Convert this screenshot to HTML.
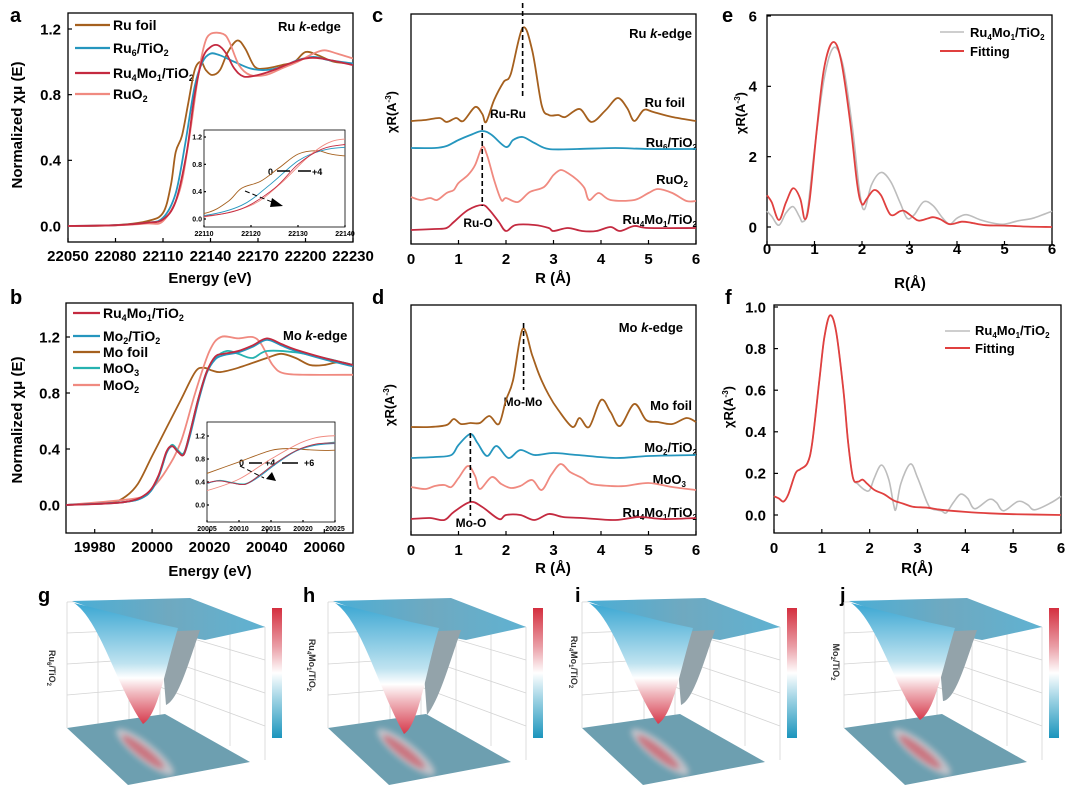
<!DOCTYPE html>
<html><head><meta charset="utf-8">
<style>
html,body{margin:0;padding:0;background:#fff;}
svg{display:block;font-family:"Liberation Sans",Arial,sans-serif;}
.b{font-weight:bold;}
</style></head>
<body>
<svg id="fig" width="1080" height="795" viewBox="0 0 1080 795" xmlns="http://www.w3.org/2000/svg">
<defs>
<linearGradient id="funnelGrad" x1="0" y1="0" x2="0" y2="1">
<stop offset="0" stop-color="#3aa6d2"/><stop offset="0.5" stop-color="#bfe3f0"/><stop offset="0.62" stop-color="#ffffff"/><stop offset="0.75" stop-color="#f0b7bd"/><stop offset="1" stop-color="#d63a4c"/>
</linearGradient>
<linearGradient id="cbarGrad" x1="0" y1="0" x2="0" y2="1">
<stop offset="0" stop-color="#d42f3f"/><stop offset="0.3" stop-color="#eaa0a8"/><stop offset="0.5" stop-color="#ffffff"/><stop offset="0.7" stop-color="#9fd3e4"/><stop offset="1" stop-color="#1b95bd"/>
</linearGradient>
<linearGradient id="topGrad" x1="0" y1="0" x2="1" y2="0">
<stop offset="0" stop-color="#4aaed6"/><stop offset="0.5" stop-color="#6fa9c0"/><stop offset="1" stop-color="#5fb2d2"/>
</linearGradient>
<filter id="blur3" x="-50%" y="-50%" width="200%" height="200%"><feGaussianBlur stdDeviation="3"/></filter>
<clipPath id="clipA"><rect x="204" y="130" width="141" height="97"/></clipPath>
<clipPath id="clipB"><rect x="207" y="422" width="128" height="100"/></clipPath>
<clipPath id="clipMainA"><rect x="68" y="13" width="285" height="229"/></clipPath>
<clipPath id="clipMainB"><rect x="66" y="303" width="287" height="230"/></clipPath>
</defs>

<g class="b" font-size="20">
<text x="10" y="22">a</text>
<text x="10" y="304">b</text>
<text x="372" y="22">c</text>
<text x="372" y="304">d</text>
<text x="722" y="22">e</text>
<text x="725" y="304">f</text>
<text x="38" y="602">g</text>
<text x="303" y="602">h</text>
<text x="575" y="602">i</text>
<text x="840" y="602">j</text>
</g>

<g class="b" font-size="14">
<text x="113" y="30">Ru foil</text>
<text x="113" y="53">Ru<tspan dy="3" font-size="9">6</tspan><tspan dy="-3">/TiO</tspan><tspan dy="3" font-size="9">2</tspan></text>
<text x="113" y="78">Ru<tspan dy="3" font-size="9">4</tspan><tspan dy="-3">Mo</tspan><tspan dy="3" font-size="9">1</tspan><tspan dy="-3">/TiO</tspan><tspan dy="3" font-size="9">2</tspan></text>
<text x="113" y="99">RuO<tspan dy="3" font-size="9">2</tspan></text>
</g>
<text class="b" x="278" y="31" font-size="13">Ru <tspan font-style="italic">k</tspan>-edge</text>
<text class="b" x="22" y="125" font-size="15" text-anchor="middle" transform="rotate(-90 22 125)">Normalized χμ (E)</text>
<text class="b" x="210" y="283" font-size="15" text-anchor="middle">Energy (eV)</text>
<g font-size="9" class="b">
<text x="268" y="175">0</text>
<text x="312" y="175">+4</text>
</g>

<g class="b" font-size="14">
<text x="103" y="318">Ru<tspan dy="3" font-size="9">4</tspan><tspan dy="-3">Mo</tspan><tspan dy="3" font-size="9">1</tspan><tspan dy="-3">/TiO</tspan><tspan dy="3" font-size="9">2</tspan></text>
<text x="103" y="341">Mo<tspan dy="3" font-size="9">2</tspan><tspan dy="-3">/TiO</tspan><tspan dy="3" font-size="9">2</tspan></text>
<text x="103" y="357">Mo foil</text>
<text x="103" y="373">MoO<tspan dy="3" font-size="9">3</tspan></text>
<text x="103" y="390">MoO<tspan dy="3" font-size="9">2</tspan></text>
</g>
<text class="b" x="283" y="340" font-size="13">Mo <tspan font-style="italic">k</tspan>-edge</text>
<text class="b" x="22" y="420" font-size="15" text-anchor="middle" transform="rotate(-90 22 420)">Normalized χμ (E)</text>
<text class="b" x="210" y="576" font-size="15" text-anchor="middle">Energy (eV)</text>
<g font-size="9" class="b">
<text x="239" y="466">0</text>
<text x="265" y="466">+4</text>
<text x="304" y="466">+6</text>
</g>

<g class="b" font-size="13" text-anchor="end">
<text x="692" y="38">Ru <tspan font-style="italic">k</tspan>-edge</text>
<text x="685" y="107">Ru foil</text>
<text x="697" y="147">Ru<tspan dy="3" font-size="8">6</tspan><tspan dy="-3">/TiO</tspan><tspan dy="3" font-size="8">2</tspan></text>
<text x="688" y="184">RuO<tspan dy="3" font-size="8">2</tspan></text>
<text x="697" y="224">Ru<tspan dy="3" font-size="8">4</tspan><tspan dy="-3">Mo</tspan><tspan dy="3" font-size="8">1</tspan><tspan dy="-3">/TiO</tspan><tspan dy="3" font-size="8">2</tspan></text>
</g>
<text class="b" x="508" y="118" font-size="12" text-anchor="middle">Ru-Ru</text>
<text class="b" x="478" y="227" font-size="12" text-anchor="middle">Ru-O</text>
<text class="b" x="396" y="112" font-size="13" text-anchor="middle" transform="rotate(-90 396 112)">χR(A<tspan dy="-5" font-size="8">-3</tspan><tspan dy="5">)</tspan></text>
<text class="b" x="553" y="283" font-size="15" text-anchor="middle">R (Å)</text>

<g class="b" font-size="13" text-anchor="end">
<text x="683" y="332">Mo <tspan font-style="italic">k</tspan>-edge</text>
<text x="692" y="410">Mo foil</text>
<text x="697" y="452">Mo<tspan dy="3" font-size="8">2</tspan><tspan dy="-3">/TiO</tspan><tspan dy="3" font-size="8">2</tspan></text>
<text x="686" y="484">MoO<tspan dy="3" font-size="8">3</tspan></text>
<text x="697" y="517">Ru<tspan dy="3" font-size="8">4</tspan><tspan dy="-3">Mo</tspan><tspan dy="3" font-size="8">1</tspan><tspan dy="-3">/TiO</tspan><tspan dy="3" font-size="8">2</tspan></text>
</g>
<text class="b" x="523" y="406" font-size="12" text-anchor="middle">Mo-Mo</text>
<text class="b" x="471" y="527" font-size="12" text-anchor="middle">Mo-O</text>
<text class="b" x="394" y="405" font-size="13" text-anchor="middle" transform="rotate(-90 394 405)">χR(A<tspan dy="-5" font-size="8">-3</tspan><tspan dy="5">)</tspan></text>
<text class="b" x="553" y="573" font-size="15" text-anchor="middle">R (Å)</text>

<g class="b" font-size="13">
<text x="970" y="37">Ru<tspan dy="3" font-size="8">4</tspan><tspan dy="-3">Mo</tspan><tspan dy="3" font-size="8">1</tspan><tspan dy="-3">/TiO</tspan><tspan dy="3" font-size="8">2</tspan></text>
<text x="970" y="56">Fitting</text>
</g>
<text class="b" x="745" y="113" font-size="13" text-anchor="middle" transform="rotate(-90 745 113)">χR(A<tspan dy="-5" font-size="8">-3</tspan><tspan dy="5">)</tspan></text>
<text class="b" x="910" y="288" font-size="15" text-anchor="middle">R(Å)</text>

<g class="b" font-size="13">
<text x="975" y="335">Ru<tspan dy="3" font-size="8">4</tspan><tspan dy="-3">Mo</tspan><tspan dy="3" font-size="8">1</tspan><tspan dy="-3">/TiO</tspan><tspan dy="3" font-size="8">2</tspan></text>
<text x="975" y="353">Fitting</text>
</g>
<text class="b" x="733" y="407" font-size="13" text-anchor="middle" transform="rotate(-90 733 407)">χR(A<tspan dy="-5" font-size="8">-3</tspan><tspan dy="5">)</tspan></text>
<text class="b" x="917" y="573" font-size="15" text-anchor="middle">R(Å)</text>

<g class="b" font-size="9" fill="#333">
<text x="49" y="668" text-anchor="middle" transform="rotate(90 49 668)">Ru<tspan dy="2" font-size="6">6</tspan><tspan dy="-2">/TiO</tspan><tspan dy="2" font-size="6">2</tspan></text>
<text x="309" y="665" text-anchor="middle" transform="rotate(90 309 665)">Ru<tspan dy="2" font-size="6">4</tspan><tspan dy="-2">Mo</tspan><tspan dy="2" font-size="6">1</tspan><tspan dy="-2">/TiO</tspan><tspan dy="2" font-size="6">2</tspan></text>
<text x="571" y="662" text-anchor="middle" transform="rotate(90 571 662)">Ru<tspan dy="2" font-size="6">4</tspan><tspan dy="-2">Mo</tspan><tspan dy="2" font-size="6">1</tspan><tspan dy="-2">/TiO</tspan><tspan dy="2" font-size="6">2</tspan></text>
<text x="833" y="662" text-anchor="middle" transform="rotate(90 833 662)">Mo<tspan dy="2" font-size="6">2</tspan><tspan dy="-2">/TiO</tspan><tspan dy="2" font-size="6">2</tspan></text>
</g>
</svg>

<script>
const aTicksX=[22050,22080,22110,22140,22170,22200,22230];
const aTicksY=[0,0.4,0.8,1.2];
const aRuFoil=[[22050,0],[22080,0.005],[22100,0.03],[22110,0.08],[22115,0.25],[22118,0.45],[22122,0.55],[22126,0.75],[22130,0.95],[22134,1.0],[22137,0.95],[22141,0.92],[22146,0.95],[22151,1.06],[22157,1.13],[22162,1.08],[22168,0.97],[22175,0.96],[22185,0.98],[22193,1.0],[22200,1.06],[22208,1.04],[22218,1.0],[22230,0.99]];
const aRu6=[[22050,0],[22080,0.005],[22100,0.02],[22110,0.05],[22118,0.2],[22124,0.5],[22130,0.85],[22135,1.0],[22140,1.05],[22146,1.04],[22155,1.0],[22165,0.96],[22175,0.95],[22185,0.97],[22195,1.01],[22205,1.03],[22215,1.01],[22230,0.99]];
const aRu4Mo1=[[22050,0],[22080,0.005],[22100,0.02],[22110,0.04],[22118,0.15],[22125,0.45],[22130,0.8],[22135,1.02],[22140,1.09],[22145,1.1],[22150,1.05],[22155,0.96],[22161,0.91],[22170,0.92],[22180,0.95],[22190,0.99],[22200,1.02],[22210,1.02],[22230,0.98]];
const aRuO2=[[22050,0],[22080,0.004],[22100,0.015],[22110,0.03],[22120,0.2],[22126,0.5],[22132,0.9],[22136,1.1],[22140,1.17],[22148,1.17],[22152,1.12],[22158,0.98],[22165,0.92],[22175,0.92],[22185,0.96],[22195,1.0],[22205,1.05],[22212,1.07],[22220,1.05],[22230,1.02]];
const aInsetTicksX=[22110,22120,22130,22140];
const aInsetTicksY=[0,0.4,0.8,1.2];

const bTicksX=[19980,20000,20020,20040,20060];
const bTicksY=[0,0.4,0.8,1.2];
const bRu4Mo1=[[19970,0],[19990,0.02],[19998,0.08],[20002,0.2],[20005,0.38],[20007,0.42],[20009,0.38],[20011,0.36],[20013,0.5],[20016,0.75],[20019,0.95],[20022,1.06],[20025,1.08],[20030,1.1],[20035,1.14],[20040,1.19],[20045,1.15],[20050,1.11],[20060,1.05],[20070,1.0]];
const bMo2=[[19970,0],[19990,0.02],[19998,0.07],[20002,0.19],[20005,0.37],[20007,0.42],[20009,0.38],[20011,0.36],[20013,0.48],[20016,0.73],[20019,0.94],[20022,1.04],[20025,1.07],[20030,1.09],[20035,1.13],[20040,1.18],[20045,1.14],[20050,1.1],[20060,1.04],[20070,0.99]];
const bMoFoil=[[19970,0],[19985,0.02],[19990,0.05],[19995,0.15],[20000,0.35],[20005,0.55],[20010,0.75],[20015,0.95],[20018,0.98],[20021,0.96],[20024,0.95],[20030,0.98],[20040,1.05],[20045,1.08],[20050,1.05],[20055,1.0],[20060,1.0],[20065,1.02],[20070,1.0]];
const bMoO3=[[19970,0],[19990,0.02],[19998,0.07],[20002,0.19],[20005,0.37],[20007,0.43],[20009,0.39],[20011,0.37],[20013,0.5],[20016,0.75],[20019,0.95],[20022,1.05],[20026,1.1],[20030,1.08],[20035,1.05],[20040,1.1],[20050,1.09],[20060,1.05],[20070,1.0]];
const bMoO2=[[19970,0],[19995,0.05],[20000,0.12],[20005,0.25],[20010,0.45],[20015,0.8],[20020,1.1],[20024,1.2],[20030,1.19],[20035,1.2],[20038,1.15],[20042,1.0],[20046,0.94],[20055,0.93],[20070,0.93]];
const bInsetTicksX=[20005,20010,20015,20020,20025];
const bInsetTicksY=[0,0.4,0.8,1.2];

const rTicks=[0,1,2,3,4,5,6];
const cRuFoil=[[0,123],[0.3,124],[0.6,126],[0.75,122],[0.95,126],[1.1,123],[1.35,137],[1.5,130],[1.58,122],[1.75,144],[1.95,162],[2.1,170],[2.35,216],[2.55,194],[2.75,139],[2.9,129],[3.1,129],[3.25,127],[3.55,135],[3.8,122],[4.1,134],[4.35,146],[4.55,136],[4.7,123],[4.9,134],[5.1,132],[5.5,127],[6,123]];
const cRu6=[[0,96],[0.5,96],[0.75,98],[1.0,104],[1.25,109],[1.5,113],[1.7,109],[2.0,97],[2.15,104],[2.35,107],[2.6,101],[2.9,95],[3.5,95],[4.3,96],[5,95],[6,95]];
const cRuO2=[[0,47],[0.2,44],[0.4,46],[0.55,44],[0.75,51],[0.9,54],[1.0,61],[1.2,69],[1.35,79],[1.5,97],[1.6,89],[1.75,64],[1.9,44],[2.0,46],[2.25,42],[2.5,52],[2.8,57],[3.0,69],[3.15,74],[3.3,71],[3.5,64],[3.65,56],[3.75,44],[3.95,51],[4.2,44],[4.7,44],[5.0,51],[5.2,55],[5.5,51],[5.8,43],[6,43]];
const cRu4Mo1=[[0,14],[0.5,15],[0.75,16],[0.9,22],[1.2,34],[1.5,39],[1.65,34],[1.85,22],[2.0,13],[2.2,19],[2.6,19],[2.9,16],[3.0,13],[3.3,16],[3.6,13],[3.9,13],[4.2,17],[4.4,13],[4.7,18],[5,16],[6,16]];
const cPeakRuRu=2.35, cPeakRuO=1.5;

const dMoFoil=[[0,108],[0.4,108],[0.75,110],[0.9,116],[1.05,111],[1.25,112],[1.45,112],[1.65,119],[1.85,111],[2.0,135],[2.15,155],[2.35,206],[2.55,180],[2.7,160],[2.9,140],[3.1,125],[3.4,108],[3.55,117],[3.75,108],[4.0,135],[4.2,123],[4.4,109],[4.7,131],[4.95,115],[5.2,113],[5.5,111],[5.8,117],[6,113]];
const dMo2=[[0,77],[0.5,78],[0.85,80],[1.0,90],[1.25,101],[1.4,92],[1.6,79],[1.8,89],[2.05,77],[2.3,85],[2.6,80],[3.0,82],[3.5,80],[4.3,77],[5,79],[6,80]];
const dMoO3=[[0,48],[0.3,46],[0.5,49],[0.7,50],[0.85,48],[1.0,57],[1.2,69],[1.35,59],[1.45,46],[1.7,58],[1.9,51],[2.1,47],[2.3,49],[2.55,55],[2.75,45],[2.95,60],[3.15,71],[3.35,63],[3.6,57],[3.8,51],[4.2,49],[4.5,49],[5,52],[5.5,48],[6,45]];
const dRu4Mo1=[[0,16],[0.4,17],[0.7,15],[0.9,23],[1.25,33],[1.5,28],[1.85,16],[2.0,20],[2.3,20],[2.6,15],[2.9,21],[3.2,18],[3.6,17],[4.3,15],[4.8,18],[5.3,16],[6,17]];
const dPeakMoMo=2.37, dPeakMoO=1.25;

const eTicksY=[0,2,4,6];
const eData=[[0,0.45],[0.1,0.3],[0.25,0.05],[0.4,0.4],[0.55,0.58],[0.68,0.3],[0.75,0.15],[0.85,0.45],[1.0,2.2],[1.2,4.2],[1.4,5.1],[1.6,4.6],[1.8,2.8],[1.95,1.0],[2.05,0.5],[2.2,1.2],[2.4,1.55],[2.6,1.3],[2.8,0.7],[2.95,0.25],[3.1,0.35],[3.3,0.72],[3.5,0.6],[3.7,0.25],[3.85,0.08],[4.0,0.25],[4.2,0.35],[4.5,0.2],[4.8,0.1],[5.0,0.08],[5.3,0.18],[5.6,0.25],[6,0.45]];
const eFit=[[0,0.9],[0.1,0.7],[0.25,0.2],[0.4,0.7],[0.55,1.1],[0.7,0.8],[0.8,0.22],[0.9,0.8],[1.05,2.8],[1.2,4.5],[1.38,5.25],[1.55,4.8],[1.75,3.0],[1.9,1.2],[2.0,0.65],[2.1,0.8],[2.25,1.05],[2.4,0.9],[2.6,0.35],[2.8,0.45],[2.9,0.45],[3.1,0.25],[3.2,0.18],[3.4,0.25],[3.5,0.28],[3.65,0.22],[3.85,0.08],[4.1,0.15],[4.3,0.12],[4.6,0.05],[5,0.04],[5.5,0.01],[6,0]];

const fTicksY=[0,0.2,0.4,0.6,0.8,1.0];
const fData=[[0,0.09],[0.1,0.08],[0.2,0.065],[0.3,0.1],[0.45,0.2],[0.55,0.22],[0.7,0.25],[0.8,0.35],[0.95,0.65],[1.05,0.85],[1.17,0.96],[1.3,0.88],[1.45,0.6],[1.55,0.35],[1.65,0.18],[1.75,0.15],[1.9,0.12],[2.0,0.12],[2.1,0.18],[2.25,0.24],[2.4,0.17],[2.5,0.05],[2.55,0.03],[2.65,0.15],[2.85,0.245],[3.0,0.18],[3.2,0.06],[3.3,0.03],[3.5,0.02],[3.6,0.01],[3.75,0.06],[3.9,0.1],[4.05,0.08],[4.2,0.03],[4.5,0.075],[4.65,0.06],[4.8,0.02],[5.1,0.065],[5.3,0.05],[5.45,0.025],[5.8,0.06],[6,0.09]];
const fFit=[[0,0.09],[0.1,0.08],[0.2,0.065],[0.3,0.1],[0.45,0.2],[0.55,0.22],[0.7,0.25],[0.8,0.35],[0.95,0.65],[1.05,0.85],[1.17,0.96],[1.3,0.88],[1.45,0.6],[1.55,0.35],[1.65,0.18],[1.75,0.16],[1.85,0.17],[1.95,0.15],[2.1,0.12],[2.3,0.1],[2.5,0.07],[2.7,0.055],[2.9,0.04],[3.2,0.035],[3.5,0.025],[4,0.015],[4.5,0.008],[5,0.004],[6,0]];

const NS='http://www.w3.org/2000/svg';
const svg=document.getElementById('fig');
function mk(tag,parent){const e=document.createElementNS(NS,tag);(parent||svg).appendChild(e);return e;}
function lin(d0,d1,r0,r1){return v=>r0+(v-d0)*(r1-r0)/(d1-d0);}
function smoothPath(pts){
  let d='M'+pts[0][0].toFixed(1)+','+pts[0][1].toFixed(1);
  for(let i=0;i<pts.length-1;i++){
    const p0=pts[i-1]||pts[i],p1=pts[i],p2=pts[i+1],p3=pts[i+2]||p2;
    const c1=[p1[0]+(p2[0]-p0[0])/6,p1[1]+(p2[1]-p0[1])/6];
    const c2=[p2[0]-(p3[0]-p1[0])/6,p2[1]-(p3[1]-p1[1])/6];
    d+='C'+c1[0].toFixed(1)+','+c1[1].toFixed(1)+' '+c2[0].toFixed(1)+','+c2[1].toFixed(1)+' '+p2[0].toFixed(1)+','+p2[1].toFixed(1);
  }
  return d;
}
function series(data,sx,sy,color,w,clip,g){
  const p=mk('path',g);
  p.setAttribute('d',smoothPath(data.map(q=>[sx(q[0]),sy(q[1])])));
  p.setAttribute('fill','none');p.setAttribute('stroke',color);p.setAttribute('stroke-width',w);
  p.setAttribute('stroke-linejoin','round');
  if(clip)p.setAttribute('clip-path','url(#'+clip+')');
  return p;
}
function frame(x0,y0,x1,y1,sw){
  const r=mk('rect');r.setAttribute('x',x0);r.setAttribute('y',y0);r.setAttribute('width',x1-x0);r.setAttribute('height',y1-y0);
  r.setAttribute('fill','none');r.setAttribute('stroke','#000');r.setAttribute('stroke-width',sw||1.3);
  return r;
}
function tickLine(x1,y1,x2,y2,sw){const l=mk('line');l.setAttribute('x1',x1);l.setAttribute('y1',y1);l.setAttribute('x2',x2);l.setAttribute('y2',y2);l.setAttribute('stroke','#000');l.setAttribute('stroke-width',sw||1.2);return l;}
function label(x,y,txt,size,anchor){const t=mk('text');t.setAttribute('x',x);t.setAttribute('y',y);t.setAttribute('font-size',size);t.setAttribute('font-weight','bold');t.setAttribute('text-anchor',anchor||'middle');t.textContent=txt;return t;}
function xTicks(ticks,sx,yb,ylab,size,fmt,len){
  ticks.forEach(v=>{const l=tickLine(sx(v),yb,sx(v),yb-(len||4));
    
    
    const t=label(sx(v),ylab,fmt?fmt(v):String(v),size);
    
    });
}
function yTicks(ticks,sy,xl,xlab,size,fmt,len){
  ticks.forEach(v=>{const l=tickLine(xl,sy(v),xl+(len||4),sy(v));
    
    
    const t=label(xlab,sy(v)+size*0.35,fmt?fmt(v):String(v),size,'end');
    
    });
}
function legLine(x1,x2,y,color,w){const l=tickLine(x1,y,x2,y,w||2.2);l.setAttribute('stroke',color);return l;}
function dashed(x1,y1,x2,y2,w){const l=tickLine(x1,y1,x2,y2,w||1.6);l.setAttribute('stroke-dasharray','5,3');return l;}
const f1=v=>v.toFixed(1);
const C={foil:'#a5601e',blue:'#2596be',red:'#c42a40',salmon:'#f08a80',teal:'#26b2b0',gray:'#bdbdbd',fit:'#e0403f'};

const axA=lin(22050,22230,68,353), ayA=lin(0,1.2,226,29);
let fr=frame(68,13,353,242);


xTicks(aTicksX,axA,242,261,15);
yTicks(aTicksY,ayA,68,61,15,f1);
let s;
s=series(aRuFoil,axA,ayA,C.foil,1.8,'clipMainA');


s=series(aRu6,axA,ayA,C.blue,1.8,'clipMainA');


s=series(aRuO2,axA,ayA,C.salmon,1.8,'clipMainA');


s=series(aRu4Mo1,axA,ayA,C.red,1.8,'clipMainA');


[[25,C.foil],[48,C.blue],[73,C.red],[94,C.salmon]].forEach(q=>{const l=legLine(75,110,q[0],q[1]);
  
  });
const iaX=lin(22110,22140,204,345), iaY=lin(0,1.2,219,137);
fr=frame(204,130,345,227,0.8);


xTicks(aInsetTicksX,iaX,227,236,7,null,2);
yTicks(aInsetTicksY,iaY,204,202,7,f1,2);
[[aRuFoil,C.foil],[aRu6,C.blue],[aRuO2,C.salmon],[aRu4Mo1,C.red]].forEach(q=>{s=series(q[0],iaX,iaY,q[1],0.9,'clipA');
  
  });
let m=tickLine(277,171,290,171,1.5);


m=tickLine(298,171,311,171,1.5);


m=dashed(245,191,272,202,1);


m=mk('polygon');m.setAttribute('points','272,198 283,206 270,207');



const axB=lin(19970,20070,66,353), ayB=lin(0,1.2,505,337);
fr=frame(66,303,353,533);


xTicks(bTicksX,axB,533,552,15);
yTicks(bTicksY,ayB,66,60,15,f1);
[[bMoFoil,C.foil,'series-b-mo-foil'],[bMoO2,C.salmon,'series-b-moo2'],[bMoO3,C.teal,'series-b-moo3'],[bMo2,C.blue,'series-b-mo2-tio2'],[bRu4Mo1,C.red,'series-b-ru4mo1-tio2']].forEach(q=>{
  s=series(q[0],axB,ayB,q[1],1.8,'clipMainB');
  
  });
[[313,C.red],[336,C.blue],[352,C.foil],[368,C.teal],[385,C.salmon]].forEach(q=>{const l=legLine(73,100,q[0],q[1]);
  
  });
const ibX=lin(20005,20025,207,335), ibY=lin(0,1.2,505,436);
fr=frame(207,422,335,522,0.8);


xTicks(bInsetTicksX,ibX,522,531,7,null,2);
yTicks(bInsetTicksY,ibY,207,205,7,f1,2);
[[bMoFoil,C.foil],[bMoO2,C.salmon],[bMoO3,C.teal],[bMo2,C.blue],[bRu4Mo1,C.red]].forEach(q=>{s=series(q[0],ibX,ibY,q[1],0.9,'clipB');
  
  });
m=tickLine(249,463,262,463,1.5);


m=tickLine(282,463,298,463,1.5);


m=dashed(240,466,264,478,1);


m=mk('polygon');m.setAttribute('points','266,479 272,472 276,481');



const rxC=lin(0,6,411,696), ryC=lin(0,230,244,14);
fr=frame(411,14,696,244);


xTicks(rTicks,rxC,244,264,15);
[[cRuFoil,C.foil,'series-c-ru-foil'],[cRu6,C.blue,'series-c-ru6-tio2'],[cRuO2,C.salmon,'series-c-ruo2'],[cRu4Mo1,C.red,'series-c-ru4mo1-tio2']].forEach(q=>{
  s=series(q[0],rxC,ryC,q[1],1.8);
  
  });
m=dashed(rxC(cPeakRuRu),3,rxC(cPeakRuRu),97);


m=dashed(rxC(cPeakRuO),125,rxC(cPeakRuO),206);



const rxD=lin(0,6,411,696), ryD=lin(0,230,535,305);
fr=frame(411,305,696,535);


xTicks(rTicks,rxD,535,555,15);
[[dMoFoil,C.foil,'series-d-mo-foil'],[dMo2,C.blue,'series-d-mo2-tio2'],[dMoO3,C.salmon,'series-d-moo3'],[dRu4Mo1,C.red,'series-d-ru4mo1-tio2']].forEach(q=>{
  s=series(q[0],rxD,ryD,q[1],1.8);
  
  });
m=dashed(rxD(dPeakMoMo),323,rxD(dPeakMoMo),390);


m=dashed(rxD(dPeakMoO),433,rxD(dPeakMoO),516);



const rxE=lin(0,6,767,1052), ryE=lin(0,6,227,16);
fr=frame(767,15,1052,245);


xTicks(rTicks,rxE,245,254,15);
yTicks(eTicksY,ryE,767,757,15);
s=series(eData,rxE,ryE,C.gray,1.6);


s=series(eFit,rxE,ryE,C.fit,1.8);


m=legLine(940,964,32,C.gray,1.6);


m=legLine(940,964,51,C.fit,2);



const rxF=lin(0,6,774,1061), ryF=lin(0,1,515,307);
fr=frame(774,305,1061,533);


xTicks(rTicks,rxF,533,553,15);
yTicks(fTicksY,ryF,774,766,15,f1);
s=series(fData,rxF,ryF,C.gray,1.6);


s=series(fFit,rxF,ryF,C.fit,1.8);


m=legLine(945,970,331,C.gray,1.6);


m=legLine(945,970,348,C.fit,2);



const wtOffsets=[0,261,515,777];
const wtNames=['g','h','i','j'];
const wtTipDepth=[0,10,0,-4];
function wtPanel(dx,tip,nm){
  const g=mk('g');g.setAttribute('transform','translate('+dx+',0)');
  
  
  const gl=mk('path',g);
  let d='M67,602 L67,728 M160,600 L160,716 M265,627 L265,760 M67,602 L160,600 L265,627';
  for(let k=1;k<4;k++){const y=602+k*31;d+=' M67,'+y+' L160,'+(600+k*29)+' L265,'+(627+k*33);}
  for(let k=1;k<3;k++){d+=' M'+(67+k*31)+',601 L'+(67+k*31)+','+(728-k*4);d+=' M'+(160+k*35)+','+(600+k*9)+' L'+(160+k*35)+','+(716+k*15);}
  gl.setAttribute('d',d);gl.setAttribute('stroke','#d4d4d4');gl.setAttribute('fill','none');gl.setAttribute('stroke-width','0.8');
  const fl=mk('polygon',g);fl.setAttribute('points','67,728 165,714 250,762 128,785');fl.setAttribute('fill','#6d9fb0');
  const hl=mk('ellipse',g);hl.setAttribute('cx','145');hl.setAttribute('cy','752');hl.setAttribute('rx','36');hl.setAttribute('ry','9');
  hl.setAttribute('transform','rotate(38 145 752)');hl.setAttribute('fill','#e3d0d3');hl.setAttribute('opacity','0.7');hl.setAttribute('filter','url(#blur3)');
  const rl=mk('ellipse',g);rl.setAttribute('cx','143');rl.setAttribute('cy','752');rl.setAttribute('rx','26');rl.setAttribute('ry','5');
  rl.setAttribute('transform','rotate(38 143 752)');rl.setAttribute('fill','#cf5a66');rl.setAttribute('opacity','0.75');rl.setAttribute('filter','url(#blur3)');
  const top=mk('polygon',g);top.setAttribute('points','72,601 190,598 265,627 205,640 160,632 110,615');top.setAttribute('fill','url(#topGrad)');
  const gr=mk('path',g);gr.setAttribute('d','M160,632 L200,630 C188,665 178,700 166,'+(705+tip)+' Z');gr.setAttribute('fill','#93a3aa');
  const fn=mk('path',g);fn.setAttribute('d','M74,603 C100,620 118,690 143,'+(724+tip)+' C158,'+(715+tip)+' 165,670 178,628 L150,622 Z');fn.setAttribute('fill','url(#funnelGrad)');
  const cb=mk('rect',g);cb.setAttribute('x','272');cb.setAttribute('y','608');cb.setAttribute('width','10');cb.setAttribute('height','130');cb.setAttribute('fill','url(#cbarGrad)');
  
  
}
wtOffsets.forEach((o,i)=>wtPanel(o,wtTipDepth[i],wtNames[i]));
</script>
</body></html>
